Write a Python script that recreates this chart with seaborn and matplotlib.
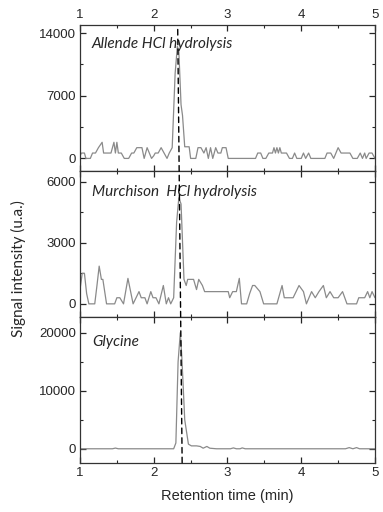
import matplotlib
matplotlib.use("Agg")
import matplotlib.pyplot as plt
from matplotlib.patches import ConnectionPatch
from matplotlib.ticker import MultipleLocator
import seaborn as sns
import pandas as pd

# ---- data (time in min, signal in u.a.) ----
allende_t = [1.00, 1.02, 1.06, 1.08, 1.14, 1.17, 1.21, 1.25, 1.30, 1.32, 1.42, 1.46, 1.48, 1.50, 1.52,
             1.56, 1.60, 1.66, 1.70, 1.73, 1.77, 1.84, 1.87, 1.89, 1.91, 1.94, 1.97, 2.00, 2.02, 2.06,
             2.10, 2.14, 2.18, 2.21, 2.25, 2.29, 2.32, 2.34, 2.37, 2.39, 2.42, 2.48, 2.50, 2.57, 2.60,
             2.64, 2.68, 2.71, 2.74, 2.77, 2.80, 2.84, 2.87, 2.91, 2.93, 2.98, 3.01, 3.38, 3.41, 3.45,
             3.48, 3.52, 3.56, 3.61, 3.63, 3.65, 3.67, 3.69, 3.71, 3.73, 3.80, 3.84, 3.88, 3.91, 3.94,
             4.00, 4.03, 4.06, 4.10, 4.13, 4.16, 4.32, 4.35, 4.40, 4.44, 4.47, 4.50, 4.54, 4.58, 4.66,
             4.70, 4.76, 4.80, 4.83, 4.86, 4.88, 4.92, 4.96, 5.00]
allende_y = [300, 600, 600, 0, 0, 600, 600, 1200, 1800, 600, 600, 1800, 600, 1800, 600,
             600, 0, 0, 600, 600, 1200, 1200, 0, 600, 1200, 600, 0, 300, 600, 600,
             1200, 600, 0, 600, 1200, 9500, 12500, 12000, 6000, 4800, 1300, 1300, 0, 0, 1200,
             1200, 600, 1200, 0, 1200, 0, 1200, 600, 600, 1200, 1200, 0, 0, 600, 600,
             0, 0, 600, 600, 1200, 600, 1200, 600, 1200, 600, 600, 0, 0, 600, 0,
             0, 600, 0, 600, 0, 0, 0, 600, 600, 0, 600, 1200, 600, 600, 600,
             0, 0, 600, 0, 600, 0, 600, 600, 0]

murchison_t = [1.00, 1.03, 1.06, 1.09, 1.12, 1.20, 1.23, 1.26, 1.29, 1.31, 1.36, 1.47, 1.50, 1.54, 1.59,
               1.65, 1.72, 1.80, 1.83, 1.88, 1.91, 1.96, 1.99, 2.03, 2.07, 2.13, 2.17, 2.20, 2.23, 2.27,
               2.31, 2.34, 2.37, 2.41, 2.44, 2.46, 2.49, 2.54, 2.58, 2.61, 2.66, 2.69, 2.76, 3.01, 3.03,
               3.07, 3.12, 3.16, 3.19, 3.26, 3.30, 3.34, 3.37, 3.44, 3.49, 3.67, 3.74, 3.77, 3.89, 3.97,
               4.03, 4.07, 4.14, 4.19, 4.24, 4.30, 4.34, 4.39, 4.44, 4.50, 4.56, 4.62, 4.75, 4.78, 4.86,
               4.90, 4.93, 4.96, 5.00]
murchison_y = [700, 1500, 1500, 500, 0, 0, 900, 1850, 1200, 1200, 0, 0, 300, 300, 0,
               1250, 0, 600, 300, 300, 0, 600, 300, 300, 0, 900, 0, 300, 0, 300,
               4000, 5200, 4900, 1200, 900, 1200, 1200, 1200, 700, 1200, 900, 600, 600, 600, 300,
               600, 600, 1250, 0, 0, 500, 900, 900, 600, 0, 0, 900, 300, 300, 900,
               600, 0, 600, 300, 600, 900, 300, 600, 300, 300, 600, 0, 0, 300, 300,
               600, 300, 600, 300]

glycine_t = [1.00, 1.44, 1.48, 1.52, 2.27, 2.30, 2.33, 2.36, 2.38, 2.42, 2.47, 2.51, 2.58, 2.63, 2.67,
             2.72, 2.76, 2.85, 3.04, 3.08, 3.12, 3.17, 3.20, 3.24, 4.60, 4.65, 4.70, 4.75, 4.79, 5.00]
glycine_y = [0, 0, 120, 0, 0, 1000, 15000, 20000, 16000, 5000, 800, 500, 500, 400, 100,
             400, 100, 0, 0, 150, 0, 0, 150, 0, 0, 200, 0, 200, 0, 0]

panel_names = ["Allende HCl hydrolysis", "Murchison  HCl hydrolysis", "Glycine"]
series = [(allende_t, allende_y), (murchison_t, murchison_y), (glycine_t, glycine_y)]
y_limits = [(-1350, 14900), (-630, 6540), (-2400, 22760)]
y_major = [7000, 3000, 10000]
peak_top, peak_bottom = 2.325, 2.385   # dashed marker of the glycine retention time

sns.set_style("ticks")
plt.rcParams["font.family"] = ["Liberation Sans", "DejaVu Sans"]

fig = plt.figure(figsize=(3.83, 5.12), dpi=100)
left, width = 80 / 383, 295 / 383
tops = [25, 170.5, 316.7, 462.7]
axes = []
for i in range(3):
    bottom = 1 - tops[i + 1] / 512
    height = (tops[i + 1] - tops[i]) / 512
    ax = fig.add_axes([left, bottom, width, height], sharex=axes[0] if axes else None)
    axes.append(ax)

for i, ax in enumerate(axes):
    t, y = series[i]
    df = pd.DataFrame({"time": t, "signal": y})
    sns.lineplot(data=df, x="time", y="signal", ax=ax, color="#8a8a8a", linewidth=0.9,
                 estimator=None, sort=False)
    ax.set_xlim(1, 5)
    ax.set_ylim(*y_limits[i])
    ax.xaxis.set_major_locator(MultipleLocator(1))
    ax.xaxis.set_minor_locator(MultipleLocator(0.5))
    ax.yaxis.set_major_locator(MultipleLocator(y_major[i]))
    ax.yaxis.set_minor_locator(MultipleLocator(y_major[i] / 2))
    ax.tick_params(which="both", direction="in", top=True, right=True, labelsize=9.5,
                   labelbottom=(i == 2), labeltop=(i == 0), pad=3)
    ax.tick_params(which="major", length=4, width=0.9)
    ax.tick_params(which="minor", length=2.5, width=0.8)
    for s in ax.spines.values():
        s.set_linewidth(0.9)
        s.set_color("#333333")
    ax.set_xlabel("")
    ax.set_ylabel("")
    ax.text(0.04, 0.87 - 0.02 * i, panel_names[i], transform=ax.transAxes, fontsize=11,
            fontstyle="italic", family=["Lato", "DejaVu Sans"], va="center", ha="left")

axes[2].set_xlabel("Retention time (min)", fontsize=10.5, labelpad=7)
fig.text(0.047, 0.475, "Signal intensity (u.a.)", rotation=90, va="center", ha="center",
         fontsize=11, family=["Lato", "DejaVu Sans"])

# slanted dashed line running through all three panels
con = ConnectionPatch(xyA=(peak_top, 14400), coordsA=axes[0].transData,
                      xyB=(peak_bottom, y_limits[2][0]), coordsB=axes[2].transData,
                      linestyle=(0, (4, 3)), color="black", linewidth=1)
fig.add_artist(con)

fig.savefig("out.png", dpi=100)
